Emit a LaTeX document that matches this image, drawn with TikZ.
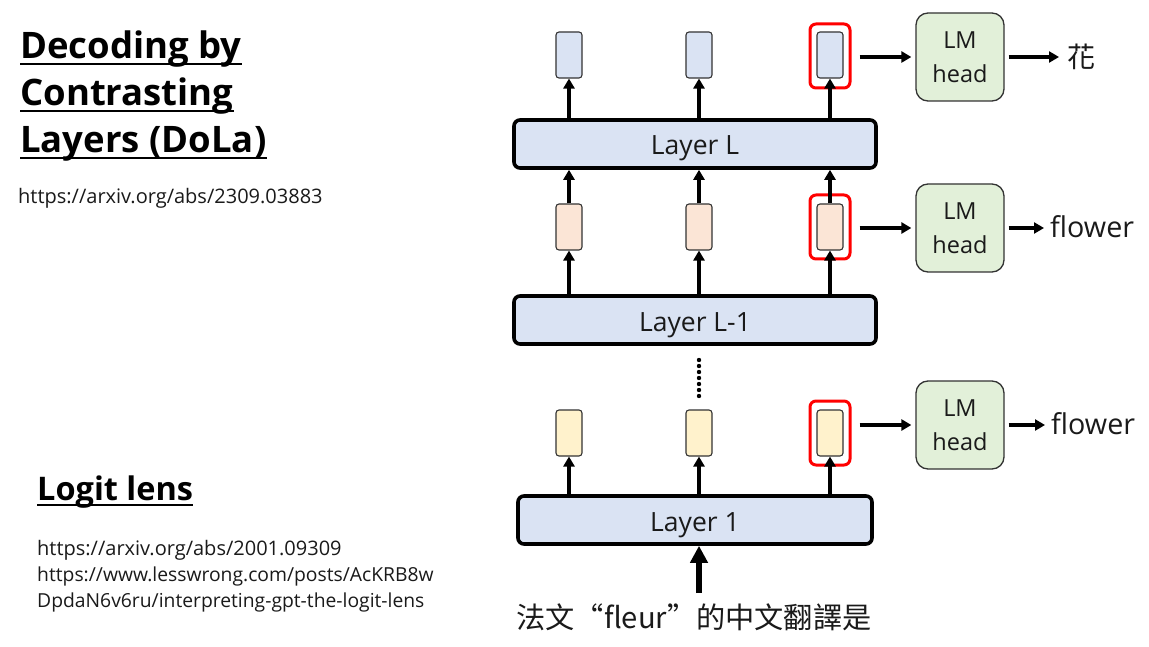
\documentclass[tikz,border=0pt]{standalone}
\usepackage{fontspec}
\setmainfont{Open Sans}
\newfontfamily\cjk{Noto Sans CJK TC}
\usetikzlibrary{arrows.meta,calc}
\definecolor{vblue}{HTML}{DAE3F3}
\definecolor{vpeach}{HTML}{FBE5D6}
\definecolor{vyellow}{HTML}{FFF2CC}
\definecolor{hgreen}{HTML}{E2F0D9}
\definecolor{ink}{HTML}{1A1A1A}
\begin{document}
\begin{tikzpicture}[x=1pt,y=-1pt,
  vec/.style={draw=black!80, line width=1.1pt, rounded corners=3pt, minimum width=26pt, minimum height=46pt, inner sep=0pt},
  ring/.style={draw=red, line width=3pt, rounded corners=6pt, minimum width=40pt, minimum height=64pt, inner sep=0pt},
  layer/.style={draw=black, line width=3.6pt, fill=vblue, rounded corners=6pt, minimum height=48pt, inner sep=0pt, text height=22pt, text depth=0pt, text=ink, font=\fontsize{26.5}{30}\selectfont},
  lmhead/.style={draw=black!80, line width=1.3pt, fill=hgreen, rounded corners=12pt, minimum width=88pt, minimum height=88pt, inner sep=0pt, align=center, text=ink, font=\fontsize{23.5}{34.5}\selectfont},
  arr/.style={line width=3.4pt, -{Triangle[length=10pt,width=11pt]}},
  bigarr/.style={line width=6pt, -{Triangle[length=17pt,width=17pt]}},
  outtxt/.style={anchor=west, inner sep=0pt, text=ink, font=\fontsize{28.7}{32}\selectfont},
  ttl/.style={anchor=base west, inner sep=0pt, text=black, font=\fontsize{36.5}{40}\selectfont\bfseries},
  url/.style={anchor=base west, inner sep=0pt, text=ink, font=\fontsize{20}{22}\selectfont},
  uline/.style={line width=2.6pt}
]
\useasboundingbox[fill=white] (0,0) rectangle (1149,647);

% left texts
\node[ttl] (ta) at (20,59) {Decoding by};
\node[ttl] (tb) at (20,106) {Contrasting};
\node[ttl] (tc) at (20,153) {Layers (DoLa)};
\foreach \n in {ta,tb,tc} \draw[uline] ([yshift=-5pt]\n.base west) -- ([yshift=-5pt]\n.base east);
\node[url] (ua) at (18,204) {https://arxiv.org/abs/2309.03883};
\node[ttl, font=\fontsize{32.5}{36}\selectfont\bfseries] (td) at (37,500) {Logit lens};
\draw[uline] ([yshift=-5pt]td.base west) -- ([yshift=-5pt]td.base east);
\node[url] (ub) at (37,555) {https://arxiv.org/abs/2001.09309};
\node[url, font=\fontsize{19.3}{22}\selectfont] (uc) at (37,581) {https://www.lesswrong.com/posts/AcKRB8w};
\node[url, font=\fontsize{19.3}{22}\selectfont] (ud) at (37,607) {DpdaN6v6ru/interpreting-gpt-the-logit-lens};

% layers
\node[layer, minimum width=362pt] (LL) at (695,144) {Layer L};
\node[layer, minimum width=362pt] (LM1) at (695,320) {Layer L-1};
\node[layer, minimum width=354pt] (L1) at (695,520) {Layer 1};

% top vectors
\node[vec, fill=vblue] (t1) at (569,55) {};
\node[vec, fill=vblue] (t2) at (699,55) {};
\node[vec, fill=vblue] (t3) at (830,55) {};
\node[ring] (r1) at (830,56) {};
% middle vectors
\node[vec, fill=vpeach] (m1) at (569,227) {};
\node[vec, fill=vpeach] (m2) at (699,227) {};
\node[vec, fill=vpeach] (m3) at (830,227) {};
\node[ring] (r2) at (830,227) {};
% bottom vectors
\node[vec, fill=vyellow] (b1) at (569,433) {};
\node[vec, fill=vyellow] (b2) at (699,433) {};
\node[vec, fill=vyellow] (b3) at (830,433) {};
\node[ring] (r3) at (830,433) {};

% LM heads
\node[lmhead] (h1) at (960,57) {LM\\head};
\node[lmhead] (h2) at (960,228) {LM\\head};
\node[lmhead] (h3) at (960,425) {LM\\head};

% outputs
\node[outtxt, font=\fontsize{28}{32}\selectfont\cjk] (o1) at (1067,57) {花};
\node[outtxt] (o2) at (1050,227) {flower};
\node[outtxt] (o3) at (1051,424) {flower};

% input
\node[inner sep=0pt, text=ink, font=\fontsize{29.2}{32}\selectfont\cjk] (inp) at (694,617) {法文“fleur”的中文翻譯是};
\coordinate (inTop) at (699,593);
\draw[bigarr] (inTop) -- (inTop |- L1.south);

% arrows layer -> vectors
\foreach \v in {t1,t2,t3} \draw[arr] (\v |- LL.north) -- (\v.south);
\foreach \v in {m1,m2,m3} \draw[arr] (\v |- LM1.north) -- (\v.south);
\foreach \v in {m1,m2,m3} \draw[arr] (\v.north) -- (\v |- LL.south);
\foreach \v in {b1,b2,b3} \draw[arr] (\v |- L1.north) -- (\v.south);

% dotted continuation
\coordinate (d1) at (699,360);
\coordinate (d2) at (699,401);
\draw[line width=4.4pt, line cap=round, dash pattern=on 0pt off 6pt] (d1) -- (d2);

% to LM heads and outputs
\draw[arr] ($(r1.east |- h1.west)+(8,0)$) -- ([xshift=-4pt]h1.west);
\draw[arr] ($(r2.east |- h2.west)+(8,0)$) -- ([xshift=-4pt]h2.west);
\draw[arr] ($(r3.east |- h3.west)+(8,0)$) -- ([xshift=-4pt]h3.west);
\draw[arr] ([xshift=4pt]h1.east) -- ($(o1.west |- h1.east)+(-8,0)$);
\draw[arr] ([xshift=4pt]h2.east) -- ($(o2.west |- h2.east)+(-6,0)$);
\draw[arr] ([xshift=4pt]h3.east) -- ($(o3.west |- h3.east)+(-6,0)$);
\end{tikzpicture}
\end{document}
